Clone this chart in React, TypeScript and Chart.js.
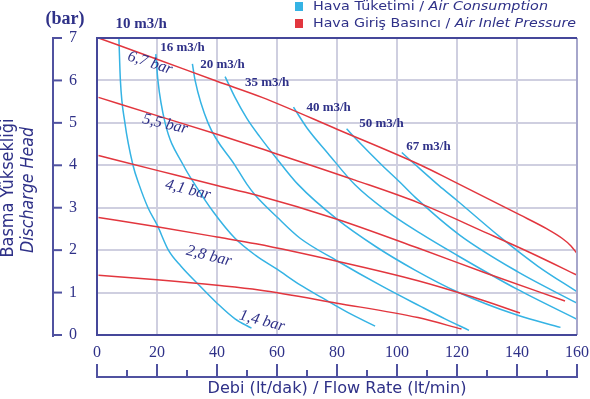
import React, { useEffect, useRef } from 'react';
import { Chart, registerables } from 'chart.js';
Chart.register(...registerables);

// ---- axis ticks ----
const xTickValues = [0, 20, 40, 60, 80, 100, 120, 140, 160];
const yTickValues = [0, 1, 2, 3, 4, 5, 6, 7];

// ---- air inlet pressure curves (red) [flow lt/min, head bar] ----
const pressureNames = ['6,7 bar', '5,5 bar', '4,1 bar', '2,8 bar', '1,4 bar'];
const p67 = [[0.5, 7.0], [20, 6.5], [40, 5.98], [55, 5.6], [80, 4.85], [108, 4.0], [118, 3.65], [141, 2.83], [150, 2.5], [155, 2.28], [158, 2.1], [160, 1.92]];
const p55 = [[0.5, 5.6], [20, 5.17], [40, 4.73], [54.3, 4.4], [86, 3.65], [107, 3.12], [130, 2.4], [145, 1.92], [160, 1.41]];
const p41 = [[0.5, 4.23], [20, 3.88], [39, 3.54], [53, 3.3], [80, 2.73], [107, 2.05], [130, 1.45], [156, 0.8]];
const p28 = [[0.5, 2.77], [20, 2.55], [40, 2.31], [53, 2.15], [80, 1.74], [107, 1.28], [125, 0.9], [141, 0.52]];
const p14 = [[0.5, 1.41], [20, 1.3], [40, 1.17], [54, 1.06], [80, 0.75], [107, 0.41], [121.5, 0.14]];

// ---- air consumption curves (blue) ----
const flowNames = ['10 m3/h', '16 m3/h', '20 m3/h', '35 m3/h', '40 m3/h', '50 m3/h', '67 m3/h'];
const c10 = [[7.3, 7.0], [7.8, 6.0], [9.3, 5.0], [12, 4.0], [14, 3.55], [17, 3.0], [20, 2.6], [23.8, 2.0], [28, 1.62], [33.8, 1.19], [40, 0.75], [46, 0.38], [51.5, 0.16]];
const c16 = [[19.6, 6.62], [20.3, 6.0], [22.7, 5.0], [28.8, 4.0], [32.7, 3.54], [38.8, 2.9], [46, 2.28], [53, 1.87], [60, 1.55], [67.7, 1.18], [75, 0.88], [85, 0.48], [92.7, 0.21]];
const c20 = [[31.8, 6.39], [32.7, 6.0], [37, 5.0], [46, 4.0], [50, 3.55], [52.7, 3.3], [60, 2.78], [67.7, 2.28], [80, 1.75], [95, 1.15], [107.7, 0.68], [116, 0.38], [124, 0.11]];
const c35 = [[42.7, 6.09], [46, 5.6], [50, 5.1], [54.3, 4.67], [60, 4.15], [67, 3.55], [80, 2.73], [93, 2.08], [106, 1.53], [120, 1.02], [140, 0.47], [154.5, 0.18]];
const c40 = [[65.5, 5.37], [70, 4.88], [77, 4.28], [86, 3.54], [96, 2.95], [107.7, 2.4], [120, 1.88], [140, 1.08], [160, 0.37]];
const c50 = [[83.2, 4.86], [86.6, 4.6], [95, 4.0], [101, 3.6], [106, 3.25], [121, 2.35], [140, 1.5], [160, 0.75]];
const c67 = [[101.6, 4.3], [106, 4.02], [114, 3.52], [120, 3.17], [134, 2.33], [147, 1.62], [160, 1.02]];

const pressureSeries = [p67, p55, p41, p28, p14];
const flowSeries = [c10, c16, c20, c35, c40, c50, c67];

// label anchors (data coords) and sizes / rotations
const flowLabelAt = [[14.7, 7.33, 15], [28.5, 6.78, 13], [41.8, 6.38, 13], [56.7, 5.95, 13], [77.2, 5.37, 13], [94.8, 4.97, 13], [110.5, 4.45, 13]];
const pressureLabelAt = [[17.7, 6.41, 18], [22.7, 4.97, 13], [30.3, 3.42, 14], [37.3, 1.86, 14], [55, 0.33, 15]];

const NAVY = '#2f3188';
const BLUE = '#35b3e4';
const RED = '#e2363e';
const GRID = '#cfcfe0';
const SANS = '"DejaVu Sans", sans-serif';
const SERIF = '"Liberation Serif", "DejaVu Serif", serif';

type Part = [string, boolean];

function fitText(ctx: CanvasRenderingContext2D, parts: Part[], x: number, y: number, w: number, size: number, center: boolean, rot = 0) {
  let total = 0;
  const widths = parts.map(([t, it]) => {
    ctx.font = `${it ? 'italic ' : ''}${size}px ${SANS}`;
    const m = ctx.measureText(t).width;
    total += m;
    return m;
  });
  const s = w / total;
  ctx.save();
  ctx.translate(x, y);
  if (rot) ctx.rotate(rot);
  ctx.scale(s, 1);
  ctx.textAlign = 'left';
  ctx.textBaseline = 'middle';
  let cx = center ? -total / 2 : 0;
  parts.forEach(([t, it], i) => {
    ctx.font = `${it ? 'italic ' : ''}${size}px ${SANS}`;
    ctx.fillText(t, cx, 0);
    cx += widths[i];
  });
  ctx.restore();
}

const decor = {
  id: 'decor',
  afterDatasetsDraw(chart: any) {
    const { ctx, chartArea: a, scales } = chart;
    const xs = scales.x;
    const ys = scales.y;
    ctx.save();
    // plot frame
    ctx.lineWidth = 2;
    ctx.strokeStyle = '#a6a6cb';
    ctx.beginPath();
    ctx.moveTo(a.right, a.top);
    ctx.lineTo(a.right, a.bottom);
    ctx.stroke();
    ctx.strokeStyle = '#45479a';
    ctx.beginPath();
    ctx.moveTo(a.right, a.top);
    ctx.lineTo(a.left, a.top);
    ctx.lineTo(a.left, a.bottom);
    ctx.lineTo(a.right, a.bottom);
    ctx.stroke();

    // left bracket axis
    ctx.strokeStyle = '#5052a0';
    ctx.lineWidth = 2;
    const bx = 53;
    ctx.beginPath();
    ctx.moveTo(bx, ys.getPixelForValue(7));
    ctx.lineTo(bx, ys.getPixelForValue(0) + 2);
    ctx.stroke();
    yTickValues.forEach((v) => {
      const py = ys.getPixelForValue(v);
      ctx.beginPath();
      ctx.moveTo(bx - 1, py);
      ctx.lineTo(bx + 9, py);
      ctx.stroke();
    });

    // bottom bracket axis
    const by = 377;
    ctx.beginPath();
    ctx.moveTo(xs.getPixelForValue(0), by);
    ctx.lineTo(xs.getPixelForValue(160), by);
    ctx.stroke();
    for (let v = 0; v <= 160; v += 10) {
      const px = xs.getPixelForValue(v);
      const major = v % 20 === 0;
      ctx.beginPath();
      ctx.moveTo(px, by + 1);
      ctx.lineTo(px, by - (major ? 13 : 7));
      ctx.stroke();
    }

    ctx.fillStyle = NAVY;
    // (bar)
    ctx.font = `bold 18px ${SERIF}`;
    ctx.textAlign = 'center';
    ctx.textBaseline = 'middle';
    ctx.fillText('(bar)', 65, 19);

    // flow labels
    flowNames.forEach((n, i) => {
      const [vx, vy, sz] = flowLabelAt[i];
      ctx.font = `bold ${sz}px ${SERIF}`;
      ctx.textAlign = 'center';
      ctx.textBaseline = 'middle';
      ctx.fillText(n, xs.getPixelForValue(vx), ys.getPixelForValue(vy));
    });

    // pressure labels
    pressureNames.forEach((n, i) => {
      const [vx, vy, deg] = pressureLabelAt[i];
      ctx.save();
      ctx.translate(xs.getPixelForValue(vx), ys.getPixelForValue(vy));
      ctx.rotate((deg * Math.PI) / 180);
      ctx.font = `italic 16px ${SERIF}`;
      ctx.textAlign = 'center';
      ctx.textBaseline = 'middle';
      ctx.fillText(n, 0, 0);
      ctx.restore();
    });

    // axis titles
    fitText(ctx, [['Debi (lt/dak) / Flow Rate (lt/min)', false]], 337, 389, 259, 16, true);
    fitText(ctx, [['Basma Yüksekliği', false]], 9, 188, 139, 17, true, -Math.PI / 2);
    fitText(ctx, [['Discharge Head', true]], 28.5, 190, 126, 17, true, -Math.PI / 2);

    // legend
    ctx.fillStyle = BLUE;
    ctx.fillRect(295, 2, 8, 9);
    ctx.fillStyle = RED;
    ctx.fillRect(295, 19, 8, 9);
    ctx.fillStyle = NAVY;
    fitText(ctx, [['Hava Tüketimi / ', false], ['Air Consumption', true]], 313, 7, 235, 13, false);
    fitText(ctx, [['Hava Giriş Basıncı / ', false], ['Air Inlet Pressure', true]], 313, 24, 263, 13, false);
    ctx.restore();
  },
};

export default function App() {
  const ref = useRef<HTMLCanvasElement | null>(null);
  useEffect(() => {
    document.body.style.margin = '0';
    const canvas = ref.current;
    if (!canvas) return;
    const toPts = (arr: number[][]) => arr.map(([x, y]) => ({ x, y }));
    const datasets: any[] = [];
    pressureSeries.forEach((s, i) =>
      datasets.push({
        label: pressureNames[i],
        data: toPts(s),
        borderColor: RED,
        borderWidth: 1.5,
        showLine: true,
        pointRadius: 0,
        cubicInterpolationMode: 'monotone',
      })
    );
    flowSeries.forEach((s, i) =>
      datasets.push({
        label: flowNames[i],
        data: toPts(s),
        borderColor: BLUE,
        borderWidth: 1.5,
        showLine: true,
        pointRadius: 0,
        cubicInterpolationMode: 'monotone',
      })
    );
    const chart = new Chart(canvas, {
      type: 'scatter',
      data: { datasets },
      plugins: [decor],
      options: {
        animation: false,
        responsive: false,
        devicePixelRatio: 1,
        layout: { padding: { top: 38, right: 0, left: 0, bottom: 0 } },
        plugins: { legend: { display: false }, tooltip: { enabled: false } },
        scales: {
          x: {
            type: 'linear',
            min: 0,
            max: 160,
            afterFit: (s: any) => { s.height = 64; s.paddingRight = 13; s.paddingLeft = 0; },
            afterBuildTicks: (s: any) => { s.ticks = xTickValues.map((v) => ({ value: v })); },
            grid: { color: GRID, lineWidth: 2, drawTicks: false },
            border: { display: false },
            ticks: { color: NAVY, padding: 8, font: { family: SERIF, size: 16 } },
          },
          y: {
            type: 'linear',
            min: 0,
            max: 7,
            afterFit: (s: any) => { s.width = 97; },
            afterBuildTicks: (s: any) => { s.ticks = yTickValues.map((v) => ({ value: v })); },
            grid: { color: GRID, lineWidth: 2, drawTicks: false },
            border: { display: false },
            ticks: { color: NAVY, padding: 20, font: { family: SERIF, size: 16 } },
          },
        },
      },
    });
    return () => chart.destroy();
  }, []);
  return (
    <div style={{ position: 'fixed', left: 0, top: 0, width: 590, height: 399, background: '#fff' }}>
      <canvas ref={ref} width={590} height={399} />
    </div>
  );
}
